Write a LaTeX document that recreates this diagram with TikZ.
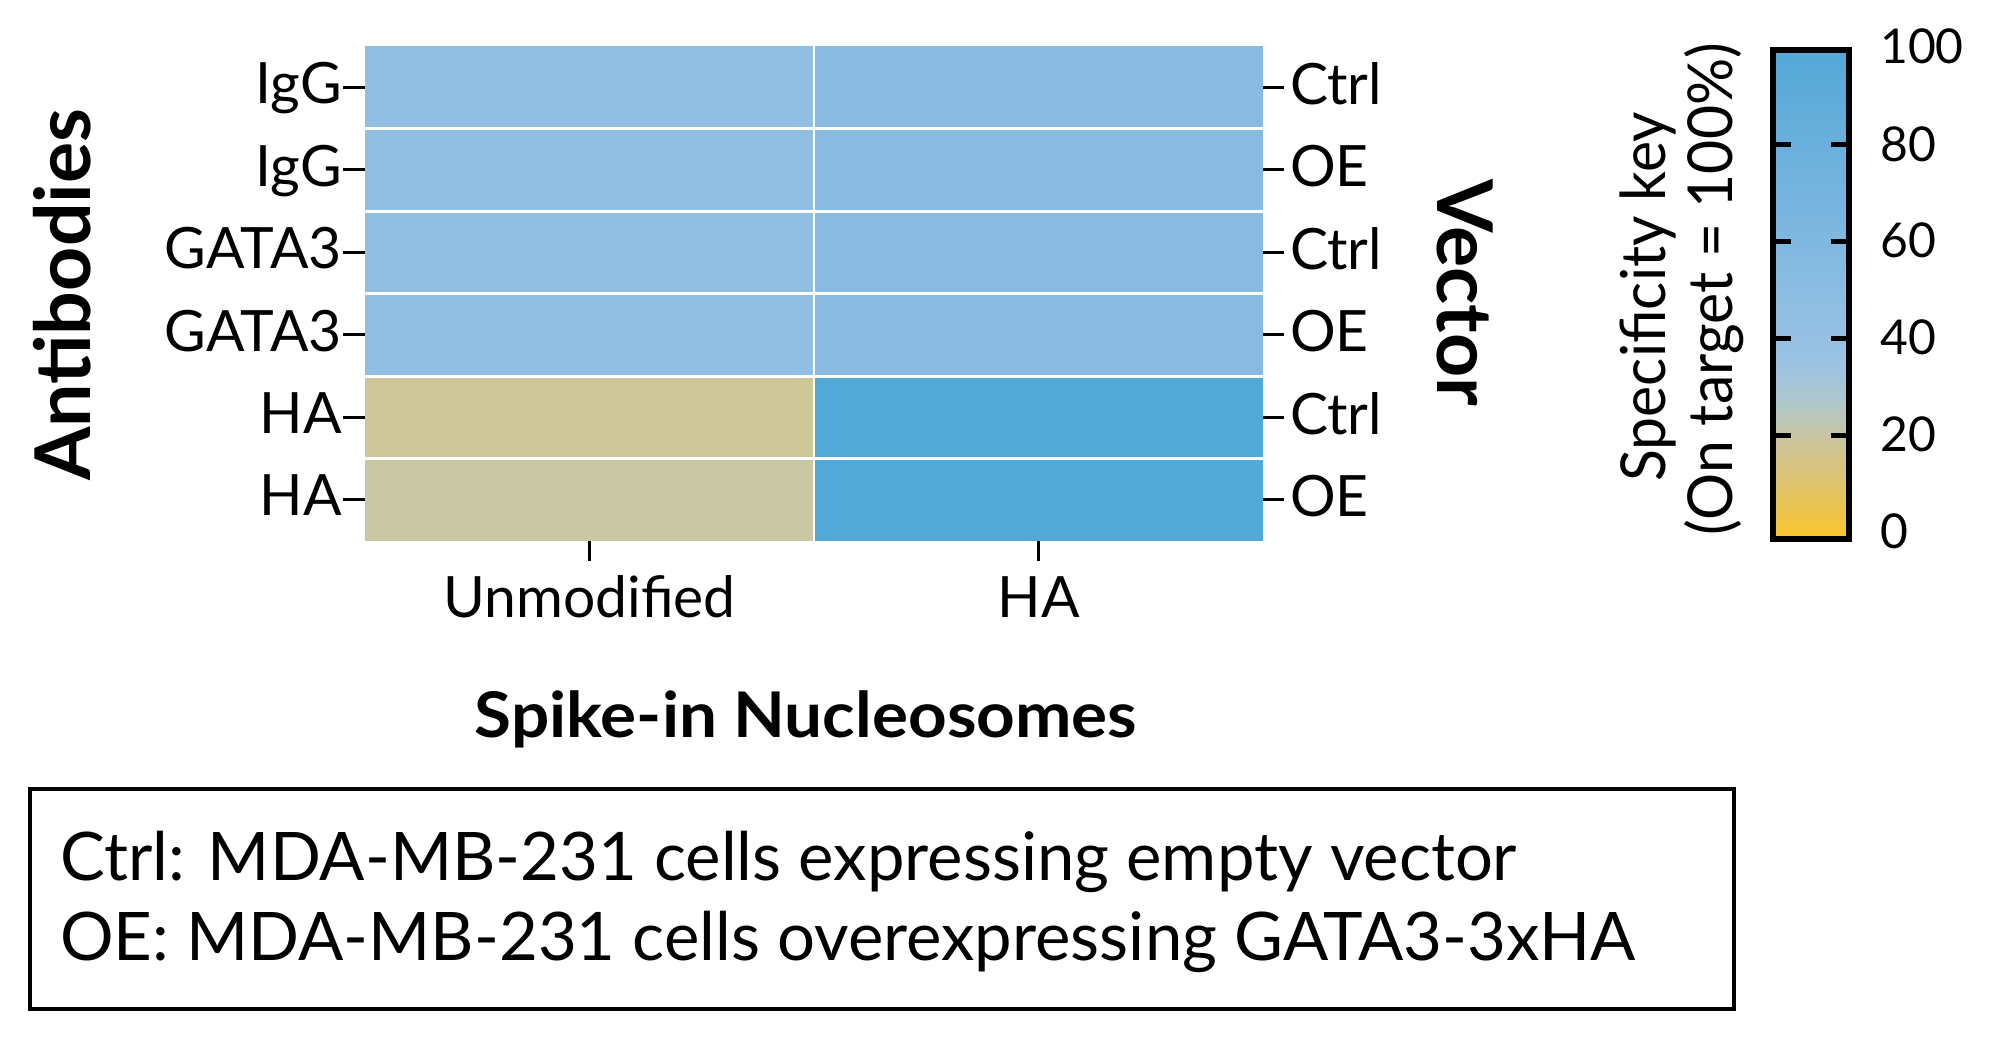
\documentclass[tikz,border=0pt]{standalone}
\usepackage{fontspec}
\usepackage{graphicx}
\setmainfont{Lato}
\begin{document}
\begin{tikzpicture}[x=1pt,y=-1pt,
  cell/.style={minimum width=449pt,minimum height=82.5pt,inner sep=0pt,outer sep=0pt,draw=none},
  lab/.style={font=\fontsize{57}{60}\selectfont,inner sep=0pt,text=black},
  cbl/.style={font=\fontsize{48}{50}\selectfont,inner sep=0pt,anchor=base west},
  cbtitle/.style={font=\fontsize{62}{66}\selectfont,inner sep=0pt,rotate=90,anchor=base},
  ttl/.style={font=\bfseries\fontsize{77}{80}\selectfont,inner sep=0pt},
  tk/.style={line width=3pt,black},
  cbt/.style={line width=5pt,black}]
\useasboundingbox (0,0) rectangle (1994,1038);
\definecolor{cA}{HTML}{90BFE2}
\definecolor{cB}{HTML}{88BBDF}
\definecolor{cC}{HTML}{CDC699}
\definecolor{cD}{HTML}{C9C6A4}
\definecolor{cE}{HTML}{52A9D6}
% heatmap cells
\node[cell,fill=cA] (r1a) at (589.5,87.25) {};
\node[cell,fill=cB] (r1b) at (1038.5,87.25) {};
\node[cell,fill=cA] (r2a) at (589.5,169.75) {};
\node[cell,fill=cB] (r2b) at (1038.5,169.75) {};
\node[cell,fill=cA] (r3a) at (589.5,252.25) {};
\node[cell,fill=cB] (r3b) at (1038.5,252.25) {};
\node[cell,fill=cA] (r4a) at (589.5,334.75) {};
\node[cell,fill=cB] (r4b) at (1038.5,334.75) {};
\node[cell,fill=cC] (r5a) at (589.5,417.25) {};
\node[cell,fill=cE] (r5b) at (1038.5,417.25) {};
\node[cell,fill=cD] (r6a) at (589.5,499.75) {};
\node[cell,fill=cE] (r6b) at (1038.5,499.75) {};
% grid lines
\foreach \r in {1,...,5}{
  \draw[white,line width=3pt] (r\r a.south west) -- (r\r b.south east);
}
\draw[white,line width=1.8pt] (r1a.north east) -- (r6a.south east);
% left labels and ticks
\foreach \r/\t in {1/IgG,2/IgG,3/GATA3,4/GATA3,5/HA,6/HA}{
  \coordinate (lt\r) at ([xshift=-22pt]r\r a.west);
  \draw[tk] (lt\r) -- (r\r a.west);
  \node[lab,anchor=east] (ll\r) at ([xshift=-1pt,yshift=-1pt]lt\r) {\t\vphantom{Ig}};
}
% right labels and ticks
\foreach \r/\t in {1/Ctrl,2/OE,3/Ctrl,4/OE,5/Ctrl,6/OE}{
  \coordinate (rt\r) at ([xshift=21pt]r\r b.east);
  \draw[tk] (r\r b.east) -- (rt\r);
  \node[lab,anchor=west] (rl\r) at ([xshift=6pt,yshift=-1pt]rt\r) {\t\vphantom{Ig}};
}
% x ticks and labels
\coordinate (xa) at ([yshift=-20pt]r6a.south);
\coordinate (xb) at ([yshift=-20pt]r6b.south);
\draw[tk] (r6a.south) -- (xa);
\draw[tk] (r6b.south) -- (xb);
\node[lab,anchor=base] (xla) at (589.5,617) {Unmodified};
\node[lab,anchor=base] (xlb) at (1038.5,617) {HA};
% axis titles
\node[font=\bfseries\fontsize{63}{66}\selectfont,inner sep=0pt,anchor=base] (xt) at (806,737) {\scalebox{1.07}[1]{Spike-in Nucleosomes}};
\node[ttl,rotate=90,anchor=base] (yt) at (90,295) {Antibodies};
\node[ttl,rotate=-90,anchor=base] (vt) at (1437,292.5) {Vector};
% colorbar
\shade[bottom color={rgb,255:red,248;green,197;blue,46},top color={rgb,255:red,223;green,195;blue,108}] (1776,536) rectangle (1846,483.6);
\shade[bottom color={rgb,255:red,223;green,195;blue,108},top color={rgb,255:red,201;green,197;blue,161}] (1776,484.1) rectangle (1846,435.2);
\shade[bottom color={rgb,255:red,201;green,197;blue,161},top color={rgb,255:red,175;green,199;blue,204}] (1776,435.7) rectangle (1846,401.3);
\shade[bottom color={rgb,255:red,175;green,199;blue,204},top color={rgb,255:red,155;green,195;blue,228}] (1776,401.8) rectangle (1846,362.6);
\shade[bottom color={rgb,255:red,155;green,195;blue,228},top color={rgb,255:red,128;green,184;blue,224}] (1776,363.1) rectangle (1846,241.6);
\shade[bottom color={rgb,255:red,128;green,184;blue,224},top color={rgb,255:red,85;green,168;blue,215}] (1776,242.1) rectangle (1846,53);
\node[draw=black,line width=6pt,minimum width=76pt,minimum height=489pt,inner sep=0pt] (cb) at (1811,294.5) {};
\foreach \v/\y in {80/144.8,60/241.6,40/338.4,20/435.2}{
  \draw[cbt] (1776,\y) -- (1791,\y);
  \draw[cbt] (1831,\y) -- (1846,\y);
}
\node[cbl] (n100) at (1880,64) {100};
\node[cbl] (n80) at (1880,161) {80};
\node[cbl] (n60) at (1880,257.5) {60};
\node[cbl] (n40) at (1880,354.5) {40};
\node[cbl] (n20) at (1880,451) {20};
\node[cbl] (n0) at (1880,548) {0};
\node[cbtitle] (ct1) at (1665,297) {\scalebox{0.95}[1]{Specificity key}};
\node[cbtitle] (ct2) at (1732,289) {\scalebox{0.95}[1]{(On target = 100\%)}};
% legend box
\node[draw=black,line width=4pt,minimum width=1704pt,minimum height=220pt,inner sep=0pt] (lg) at (882,899) {};
\node[font=\fontsize{67}{80}\selectfont,inner sep=0pt,anchor=base west] (lg1) at (60,880) {Ctrl: MDA-MB-231 cells expressing empty vector};
\node[font=\fontsize{67}{80}\selectfont,inner sep=0pt,anchor=base west] (lg2) at (60,960) {OE: MDA-MB-231 cells overexpressing GATA3-3xHA};
\end{tikzpicture}
\end{document}
